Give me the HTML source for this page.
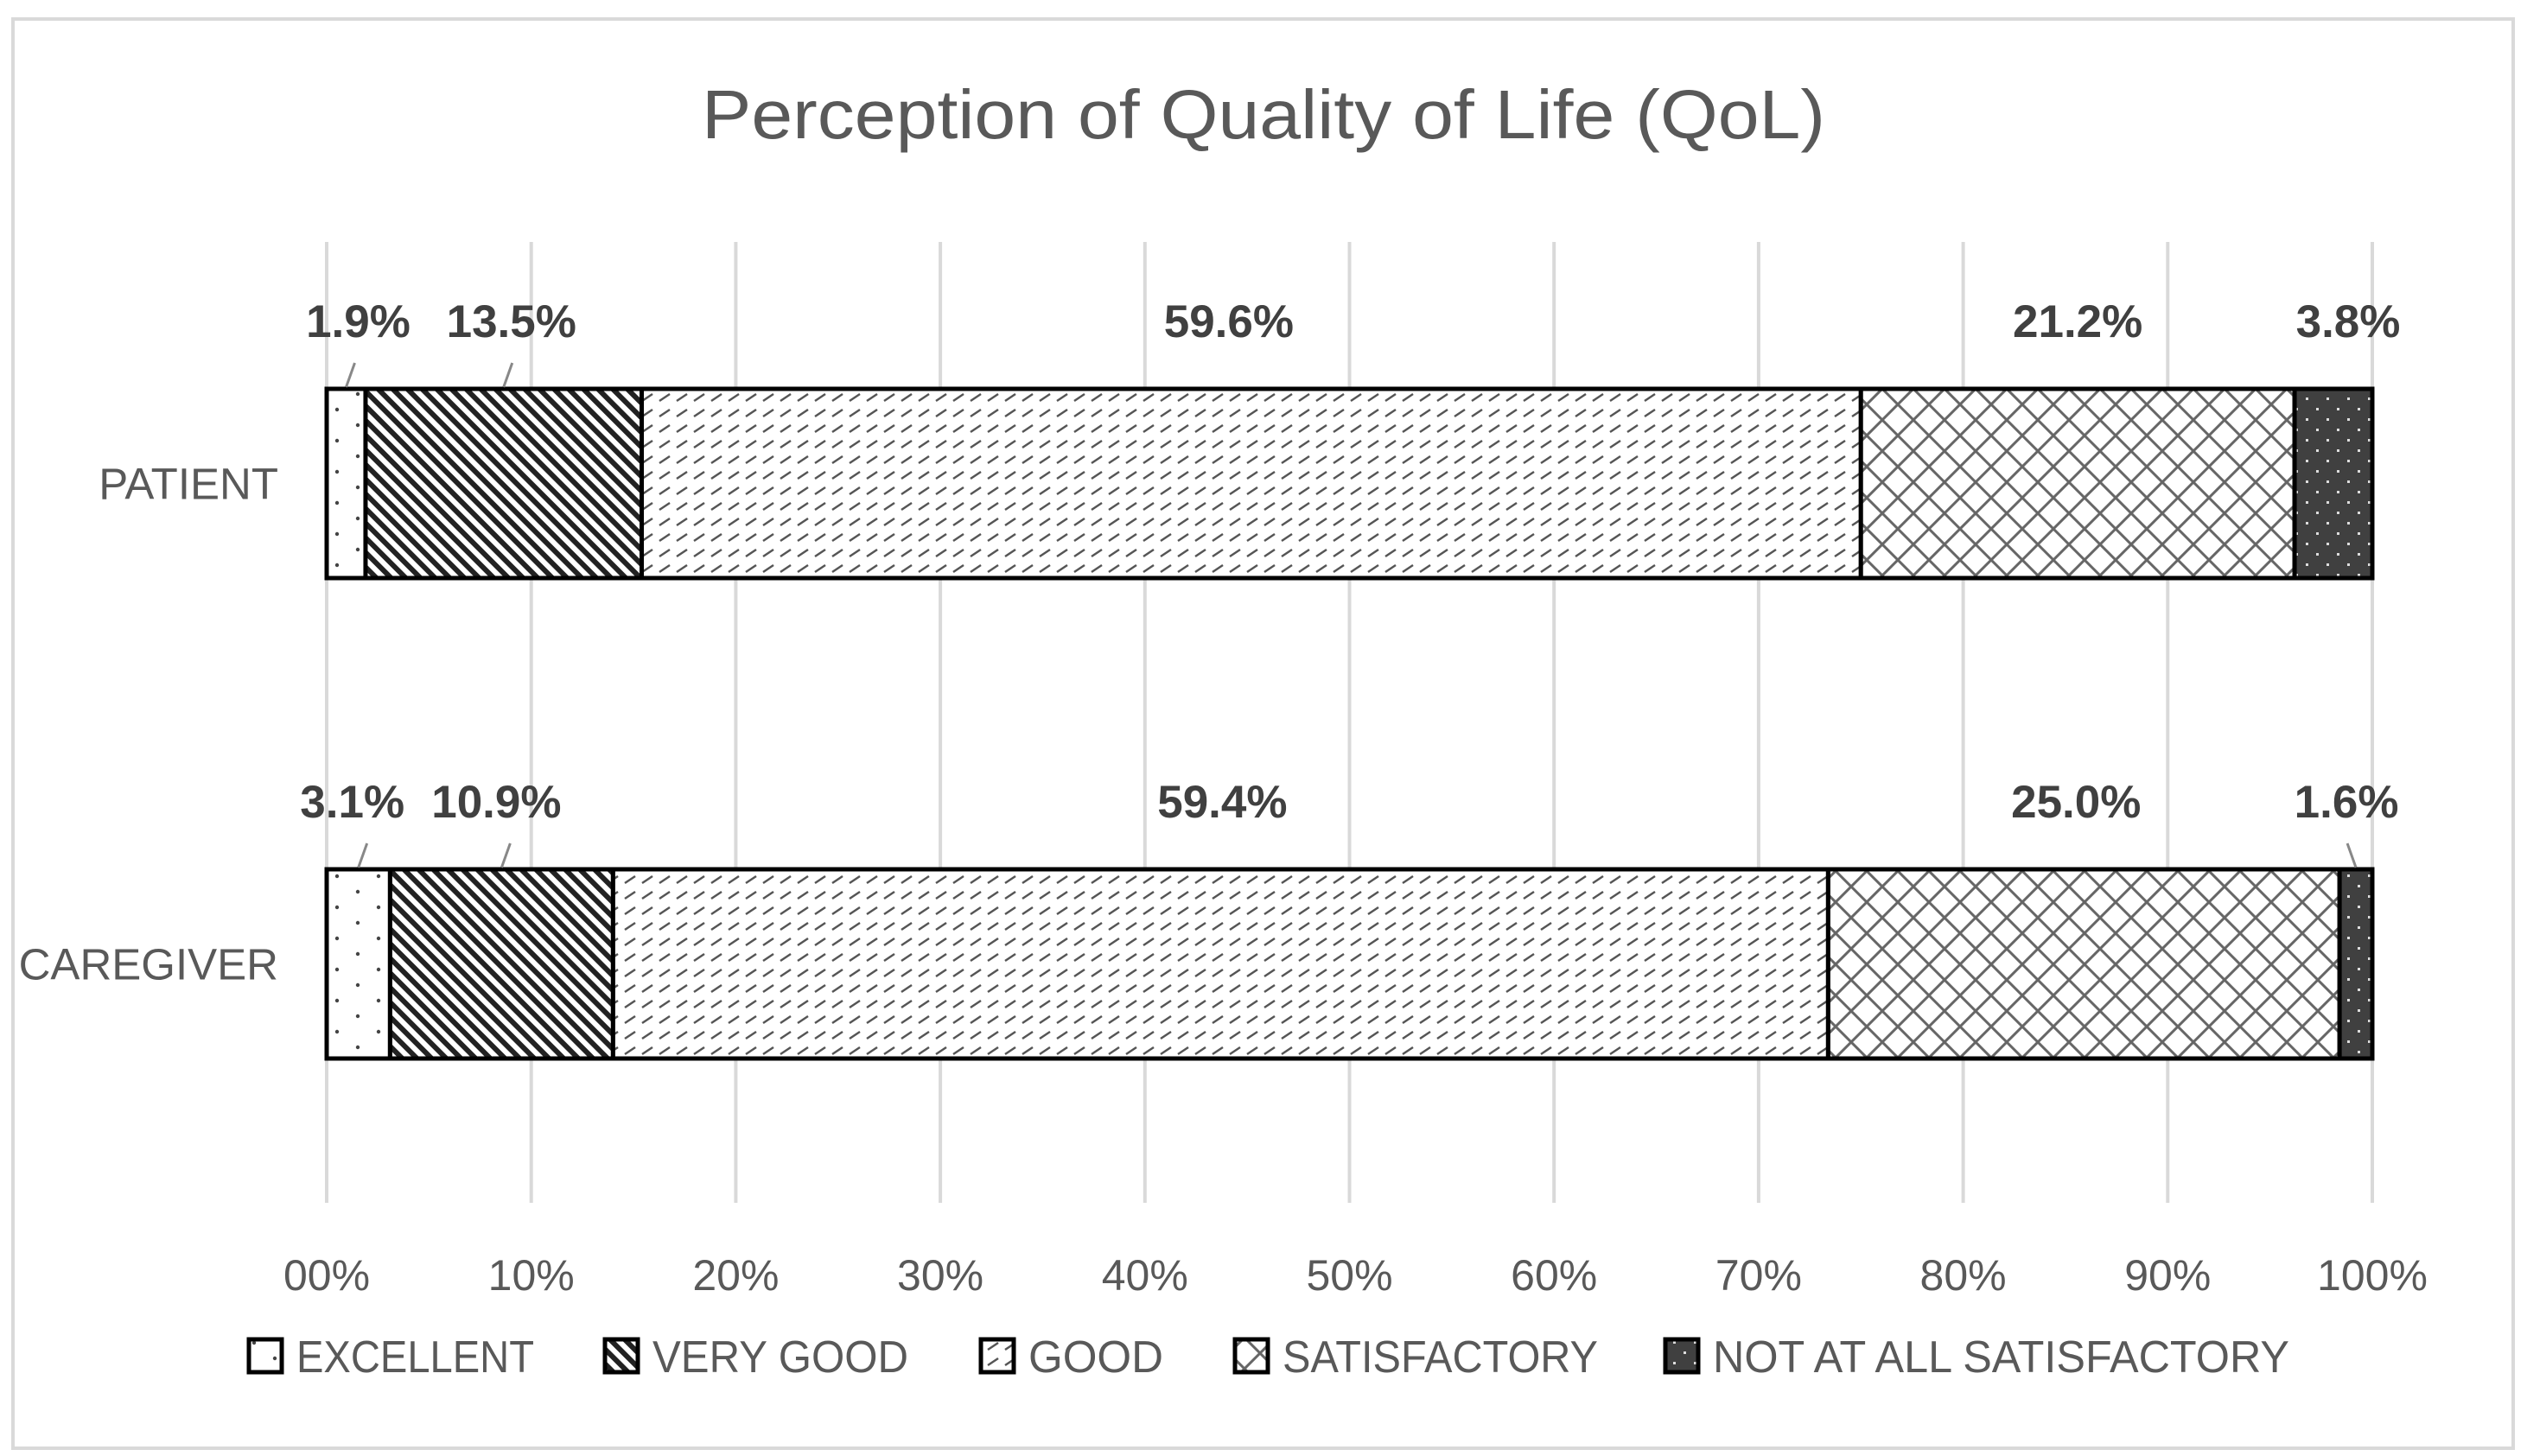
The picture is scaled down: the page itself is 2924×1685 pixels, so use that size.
<!DOCTYPE html>
<html><head><meta charset="utf-8"><style>
html,body{margin:0;padding:0;background:#fff;}
svg{display:block;font-family:"Liberation Sans",sans-serif;}
</style></head><body>
<svg id="chart" width="2924" height="1685" viewBox="0 0 2924 1685">
<defs>
<pattern id="p-exc" width="48" height="36" patternUnits="userSpaceOnUse"><rect width="48" height="36" fill="#fff"/><circle cx="6" cy="6" r="2.2" fill="#444"/><circle cx="30" cy="24" r="2.2" fill="#444"/></pattern>
<pattern id="p-vg" width="12" height="12" patternUnits="userSpaceOnUse" patternTransform="rotate(-45)"><rect width="12" height="12" fill="#fff"/><rect width="6" height="12" fill="#222"/></pattern>
<pattern id="p-good" width="20" height="18" patternUnits="userSpaceOnUse"><rect width="20" height="18" fill="#fff"/><line x1="3" y1="14" x2="15" y2="6" stroke="#555" stroke-width="2.5"/></pattern>
<pattern id="p-sat" width="36" height="36" patternUnits="userSpaceOnUse"><rect width="36" height="36" fill="#fff"/><path d="M0 0L36 36M36 0L0 36" stroke="#666" stroke-width="3"/></pattern>
<pattern id="p-nas" width="24" height="24" patternUnits="userSpaceOnUse"><rect width="24" height="24" fill="#404040"/><rect x="4" y="4" width="3" height="3" fill="#ddd"/><rect x="16" y="16" width="3" height="3" fill="#ddd"/></pattern>
</defs>
<rect x="15" y="22" width="2893" height="1654" fill="#fff" stroke="#d9d9d9" stroke-width="4"/>
<text x="1462" y="160" text-anchor="middle" font-size="80" fill="#595959" textLength="1300" lengthAdjust="spacingAndGlyphs">Perception of Quality of Life (QoL)</text>
<g id="grid"></g>
<g id="bars"></g>
<g id="labels"></g>
<g id="legend"></g>
</svg>
<script>
const categories = ["PATIENT", "CAREGIVER"];
const seriesNames = ["EXCELLENT", "VERY GOOD", "GOOD", "SATISFACTORY", "NOT AT ALL SATISFACTORY"];
const excellent = [1.9, 3.1];
const veryGood = [13.5, 10.9];
const good = [59.6, 59.4];
const satisfactory = [21.2, 25.0];
const notAtAll = [3.8, 1.6];
const tickValues = [0, 10, 20, 30, 40, 50, 60, 70, 80, 90, 100];
const tickLabels = ["00%", "10%", "20%", "30%", "40%", "50%", "60%", "70%", "80%", "90%", "100%"];

const NS = "http://www.w3.org/2000/svg";
const fills = ["url(#p-exc)", "url(#p-vg)", "url(#p-good)", "url(#p-sat)", "url(#p-nas)"];
const series = [excellent, veryGood, good, satisfactory, notAtAll];
const labelNudge = [[-6, 9, -26, 0, 27], [-27, -6, 2, -9, -1]];
const X0 = 378, X1 = 2745;
const xScale = v => X0 + (X1 - X0) * v / 100;
const barTop = [450, 1006], barH = 219;
function mk(tag, attrs, parent) { const e = document.createElementNS(NS, tag); for (const k in attrs) e.setAttribute(k, attrs[k]); parent.appendChild(e); return e; }
const grid = document.getElementById("grid"), bars = document.getElementById("bars"), labels = document.getElementById("labels"), legend = document.getElementById("legend");
tickValues.forEach((t, i) => {
  const x = xScale(t);
  const l = mk("line", {x1: x, x2: x, y1: 280, y2: 1392, stroke: "#d9d9d9", "stroke-width": 4}, grid);
  
  
  const tx = mk("text", {x: x, y: 1493, "text-anchor": "middle", "font-size": 50, fill: "#595959"}, grid);
  
  
  tx.textContent = tickLabels[i];
});
categories.forEach((c, ci) => {
  const yTop = barTop[ci];
  const ct = mk("text", {x: 322, y: yTop + barH / 2 + 18, "text-anchor": "end", "font-size": 51, fill: "#595959"}, labels);
  
  
  ct.textContent = c;
  let cum = 0;
  series.forEach((s, si) => {
    const v = s[ci];
    const xa = xScale(cum), xb = xScale(cum + v);
    const r = mk("rect", {x: xa, y: yTop, width: xb - xa, height: barH, fill: fills[si], stroke: "#000", "stroke-width": 5}, bars);
    
    
    const mid = (xa + xb) / 2;
    const small = (xb - xa) < 120;
    let lx = mid;
    if (small && si === 0) lx = mid + 20;
    if (small && si === 4) lx = mid - 10;
    lx += labelNudge[ci][si];
    const ly = yTop - 60;
    const t = mk("text", {x: lx, y: ly, "text-anchor": "middle", "font-size": 53, "font-weight": "bold", fill: "#404040"}, labels);
    
    
    t.textContent = v.toFixed(1) + "%";
    if (si === 0 || si === 1 || (si === 4 && ci === 1)) {
      const dir = (si === 4) ? -1 : 1;
      const ln = mk("line", {x1: mid, y1: yTop - 2, x2: mid + dir * 10, y2: yTop - 30, stroke: "#888", "stroke-width": 3}, labels);
      
      
    }
    cum += v;
  });
});
const legTextX = [343, 755, 1190, 1484, 1982];
const legTextLen = [275, 296, 156, 365, 667];
seriesNames.forEach((n, i) => {
  const b = mk("rect", {x: legTextX[i] - 55, y: 1550, width: 38, height: 38, fill: fills[i], stroke: "#000", "stroke-width": 5}, legend);
  
  
  const t = mk("text", {x: legTextX[i], y: 1588, "font-size": 52, fill: "#595959", textLength: legTextLen[i], lengthAdjust: "spacingAndGlyphs"}, legend);
  
  
  t.textContent = n;
});
</script>
</body></html>
